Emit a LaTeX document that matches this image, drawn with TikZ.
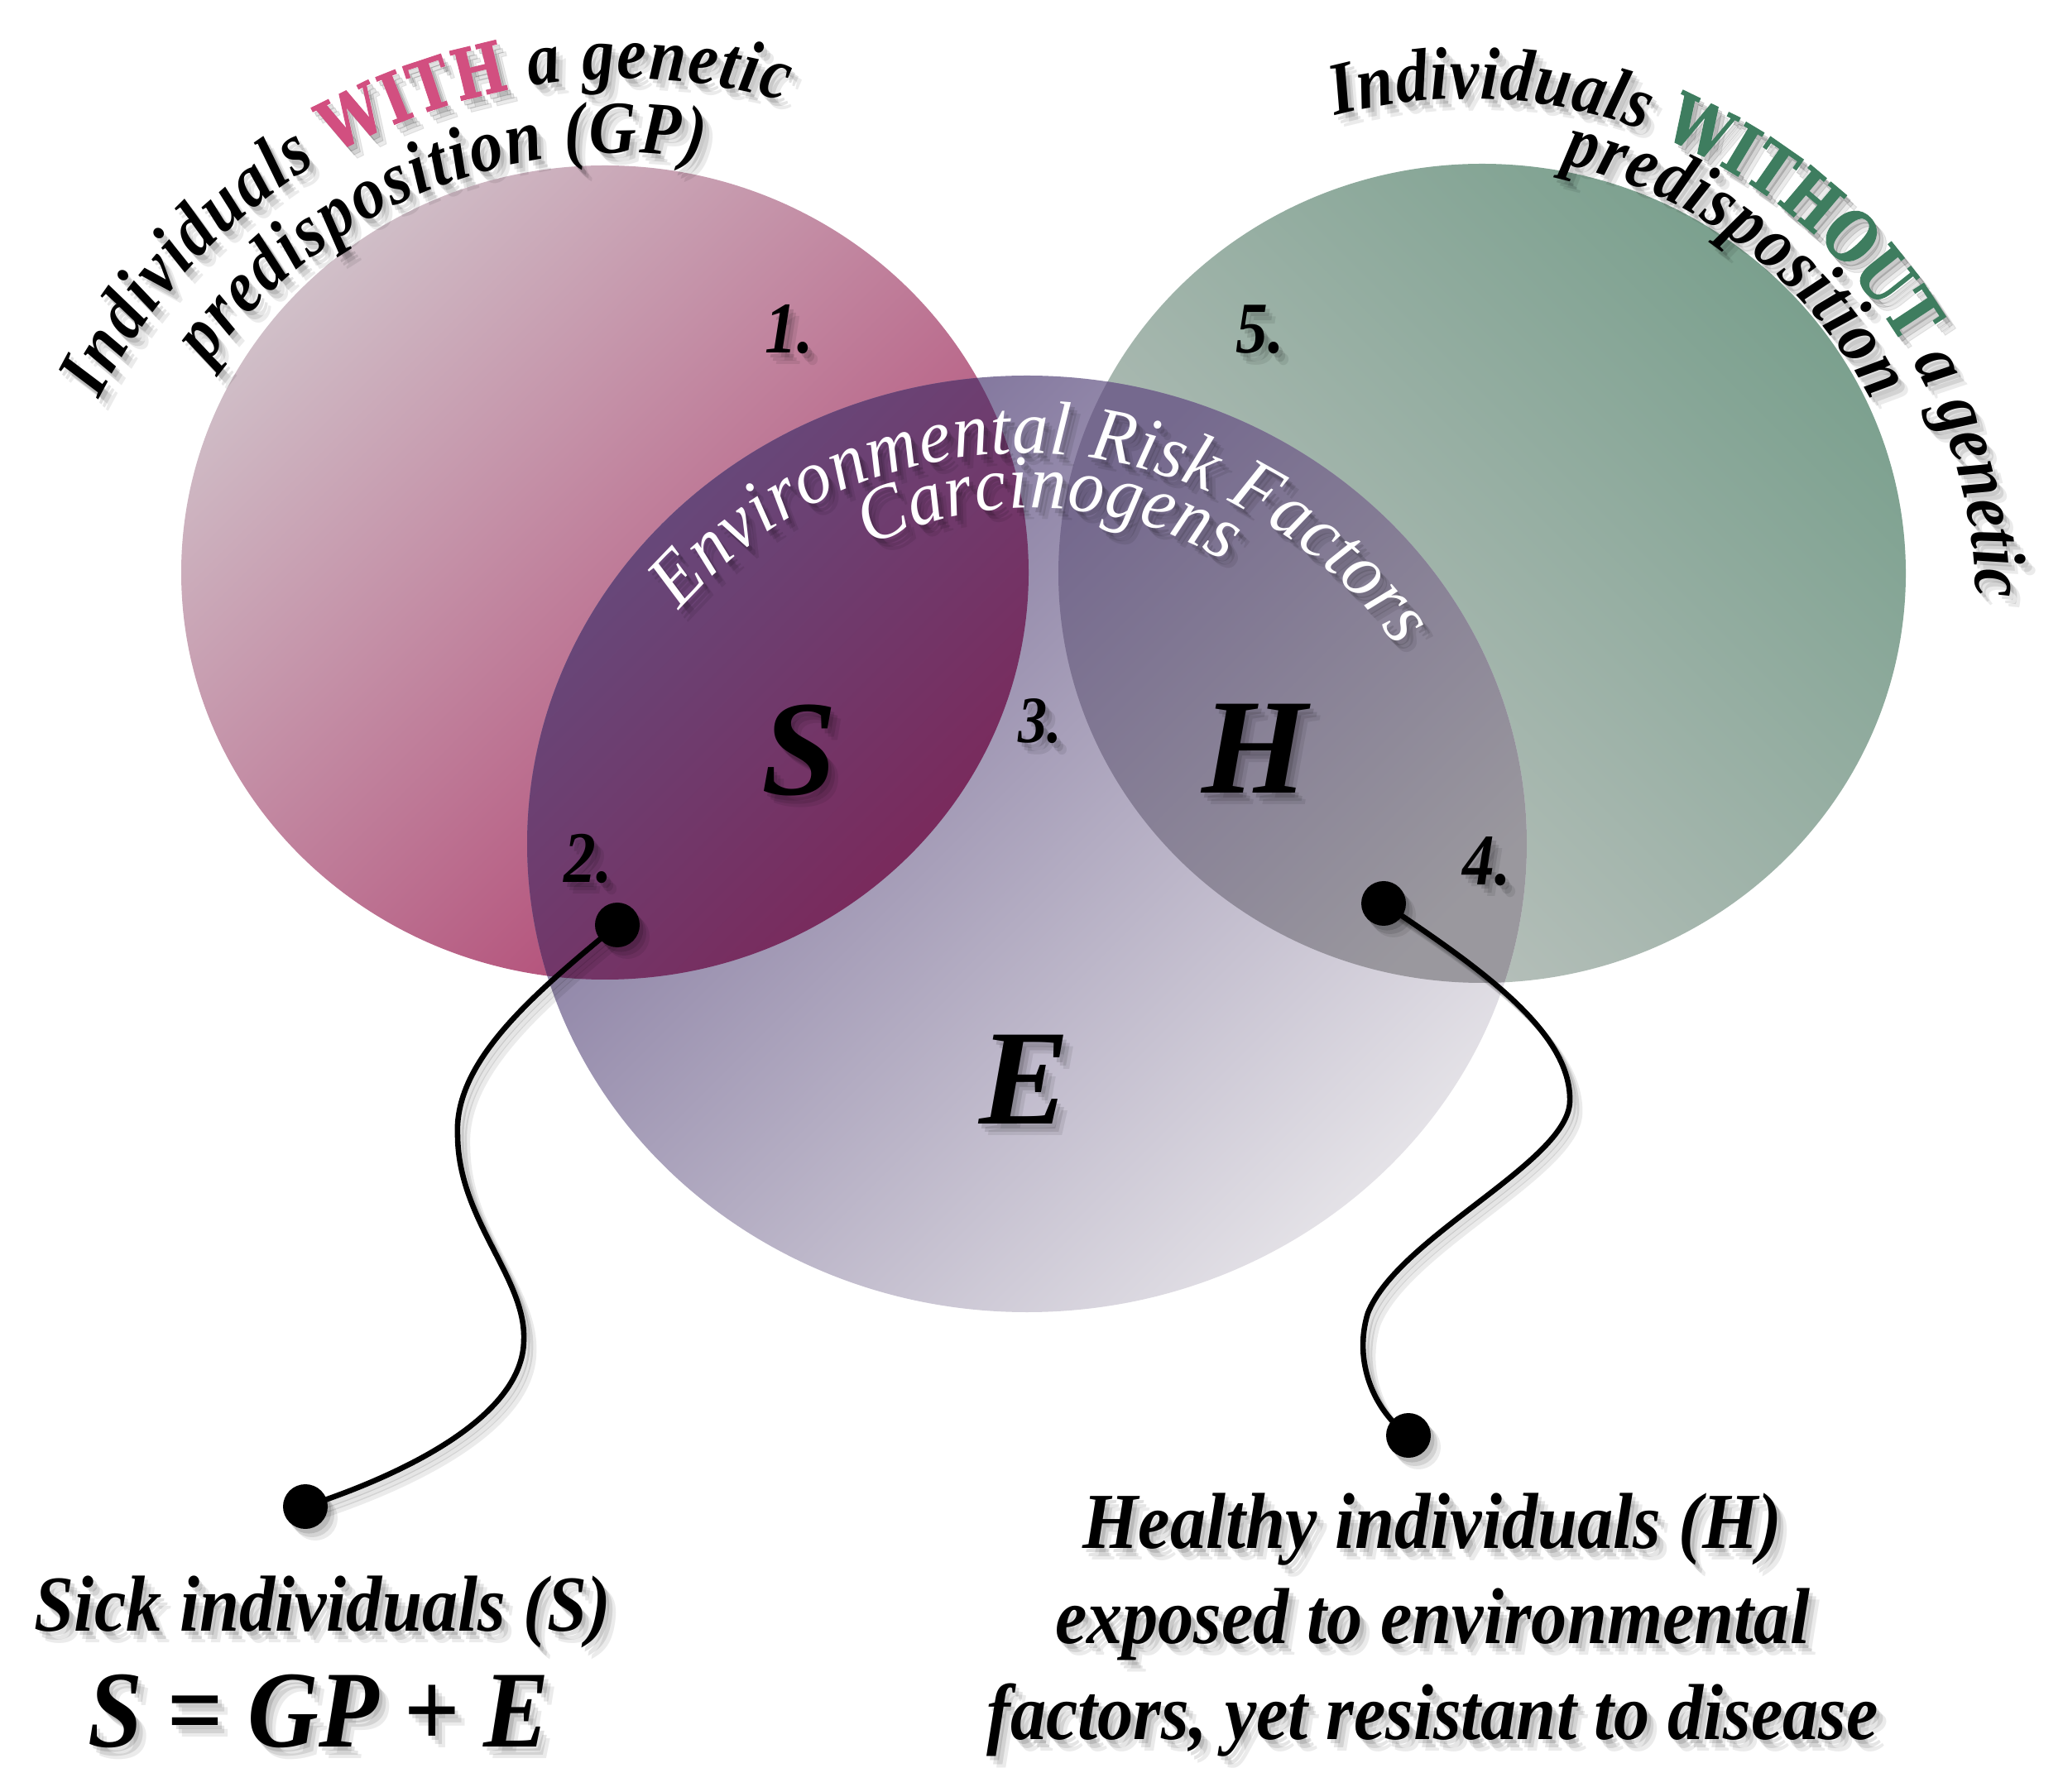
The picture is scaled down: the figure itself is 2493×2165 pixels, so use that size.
\documentclass[tikz,border=0pt]{standalone}
\usepackage{fontspec}
\setmainfont{Liberation Serif}
\newfontfamily\fbi{Liberation Serif}[UprightFont=* Bold Italic]
\newfontfamily\fbic{Liberation Serif}[UprightFont=* Bold Italic, FakeStretch=0.88]
\newfontfamily\fbicap{Liberation Serif}[UprightFont=* Bold Italic, FakeStretch=0.9]
\newfontfamily\fic{Liberation Serif}[UprightFont=* Italic, FakeStretch=0.94]
\newfontfamily\fheavy{DejaVu Serif}[UprightFont=* Bold, FakeStretch=0.8, FakeBold=1.2]
\usetikzlibrary{decorations.text,calc}

\definecolor{pinkA}{HTML}{D0BFC8}
\definecolor{pinkB}{HTML}{AE3A6A}
\definecolor{greenA}{HTML}{7BA08E}
\definecolor{greenB}{HTML}{BFC4C1}
\definecolor{purA}{HTML}{776A95}
\definecolor{purB}{HTML}{E4E2E7}
\definecolor{ovpA}{HTML}{634E80}
\definecolor{ovpB}{HTML}{7C2658}
\definecolor{ovgA}{HTML}{75698E}
\definecolor{ovgB}{HTML}{9A989E}
\definecolor{withpink}{HTML}{D24F80}
\definecolor{withoutgreen}{HTML}{3E7D5F}
\colorlet{fgA}{black}
\colorlet{envtext}{white}

\newcommand{\arcf}{\fbic\fontsize{45}{52}\selectfont\color{fgA}}
\newcommand{\heavyf}{\fheavy\fontsize{42}{48}\selectfont}
\newcommand{\envf}{\fic\fontsize{46}{50}\selectfont\color{envtext}}

\newcommand{\shadowed}[1]{%
  \begin{scope}[opacity=0.08, transform canvas={xshift=6pt,yshift=-7pt}]
    \colorlet{fgA}{black}\colorlet{envtext}{black}\colorlet{withpink}{black}\colorlet{withoutgreen}{black}#1
  \end{scope}
  \begin{scope}[opacity=0.10, transform canvas={xshift=4pt,yshift=-5pt}]
    \colorlet{fgA}{black}\colorlet{envtext}{black}\colorlet{withpink}{black}\colorlet{withoutgreen}{black}#1
  \end{scope}
  \begin{scope}[opacity=0.12, transform canvas={xshift=2.2pt,yshift=-2.8pt}]
    \colorlet{fgA}{black}\colorlet{envtext}{black}\colorlet{withpink}{black}\colorlet{withoutgreen}{black}#1
  \end{scope}
  #1}

\begin{document}
\begin{tikzpicture}[x=0.5pt,y=0.5pt,
  numlbl/.style={font=\fbic\fontsize{44}{50}\selectfont, inner sep=0, text=fgA},
  biglbl/.style={font=\fbi\fontsize{82}{92}\selectfont, inner sep=0, text=fgA},
  caption/.style={font=\fbicap\fontsize{48}{57.7}\selectfont, inner sep=0, align=center, anchor=base, text=fgA},
  dot/.style={circle, fill=fgA, inner sep=0, minimum size=27pt},
  wire/.style={line width=3.3pt, draw=fgA},
]
\useasboundingbox (0,0) rectangle (2493,2165);
\fill[white] (0,0) rectangle (2493,2165);

% circle centres
\coordinate (cp) at (731,1473);
\coordinate (cg) at (1791,1472);
\coordinate (ce) at (1241,1145);

% base circles
\shade[top color=pinkA, bottom color=pinkB, shading angle=45] (cp) ellipse [x radius=512, y radius=492];
\shade[top color=greenB, bottom color=greenA, shading angle=135] (cg) ellipse [x radius=512, y radius=495];
\shade[top color=purA, bottom color=purB, shading angle=45] (ce) ellipse [x radius=604, y radius=566];

% overlaps
\begin{scope}
  \clip (ce) ellipse [x radius=604, y radius=566];
  \clip (cp) ellipse [x radius=512, y radius=492];
  \shade[top color=ovpA, bottom color=ovpB, shading angle=45] (630,975) rectangle (1250,1715);
\end{scope}
\begin{scope}
  \clip (ce) ellipse [x radius=604, y radius=566];
  \clip (cg) ellipse [x radius=512, y radius=495];
  \shade[top color=ovgA, bottom color=ovgB, shading angle=45] (1272,960) rectangle (1852,1715);
\end{scope}

% arc centres for headings
\coordinate (lc) at (752,1360);
\coordinate (rc) at (1773,1431);
\coordinate (ec1) at (1237,1066);
\coordinate (ec2) at (1249,1107);

\shadowed{%
  % left heading
  \path[decorate, decoration={text along path, text align=fit to path,
      text={|\arcf|Individuals |\heavyf\color{withpink}|WITH|\arcf| a genetic}}]
    ($(lc)+(153:710)$) arc[start angle=153, end angle=74, radius=710];
  \path[decorate, decoration={text along path, text align=fit to path,
      text={|\arcf|predisposition (GP)}}]
    ($(lc)+(144:620)$) arc[start angle=144, end angle=81, radius=620];
  % right heading
  \path[decorate, decoration={text along path, text align=fit to path,
      text={|\arcf|Individuals |\heavyf\color{withoutgreen}|WITHOUT|\arcf| a genetic}}]
    ($(rc)+(105:615)$) arc[start angle=105, end angle=1, radius=615];
  \path[decorate, decoration={text along path, text align=fit to path,
      text={|\arcf|predisposition}}]
    ($(rc)+(78:548)$) arc[start angle=78, end angle=27, radius=548];
  % environmental
  \path[decorate, decoration={text along path, text align=fit to path,
      text={|\envf|Environmental Risk Factors}}]
    ($(ec1)+(139:551)$) arc[start angle=139, end angle=35, radius=551];
  \path[decorate, decoration={text along path, text align=fit to path,
      text={|\envf|Carcinogens}}]
    ($(ec2)+(116.5:444)$) arc[start angle=116.5, end angle=58.5, radius=444];
  % region numbers
  \node[numlbl] (n1) at (954,1767) {1.};
  \node[numlbl] (n5) at (1523,1767) {5.};
  \node[numlbl] (n2) at (711,1127) {2.};
  \node[numlbl, font=\fbic\fontsize{40}{46}\selectfont] (n3) at (1257,1293) {3.};
  \node[numlbl] (n4) at (1797,1124) {4.};
  % region letters
  \node[biglbl] (lS) at (966,1258) {S};
  \node[biglbl] (lH) at (1516,1260) {H};
  \node[biglbl] (lE) at (1238,860) {E};
  % captions
  \node[caption] (sick) at (390,194) {Sick individuals (S)};
  \node[caption, font=\fbicap\fontsize{66}{74}\selectfont] (formula) at (385,54) {S = GP + E};
  \node[caption] (healthy) at (1731,63) {Healthy individuals (H)\\exposed to environmental\\factors, yet resistant to disease};
  % pointers
  \node[dot] (d1) at (746,1047) {};
  \node[dot] (d2) at (369,344) {};
  \node[dot] (d3) at (1672,1073) {};
  \node[dot] (d4) at (1702,430) {};
  \draw[wire] (d1.center) .. controls (640,960) and (548,880) .. (553,792)
     .. controls (554,690) and (636,620) .. (633,545)
     .. controls (632,450) and (480,380) .. (d2.center);
  \draw[wire] (d3.center) .. controls (1780,1000) and (1900,920) .. (1897,833)
     .. controls (1894,760) and (1690,670) .. (1653,578)
     .. controls (1635,520) and (1660,460) .. (d4.center);
}
\end{tikzpicture}
\end{document}
